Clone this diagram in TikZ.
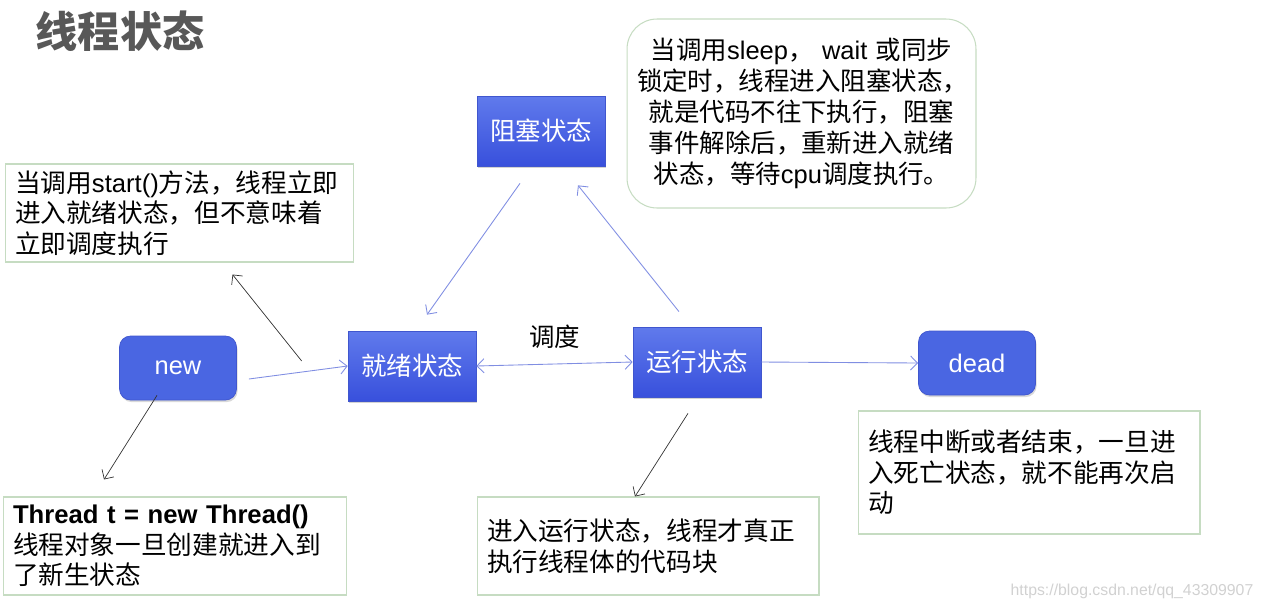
\documentclass[tikz,border=0pt]{standalone}
\usepackage{fontspec}
\setmainfont{Noto Sans CJK SC}
\newfontfamily\latn{Liberation Sans}
\usetikzlibrary{calc,arrows.meta,shadows}

\definecolor{statetop}{RGB}{96,122,236}
\definecolor{statebot}{RGB}{56,80,220}
\definecolor{stateedge}{RGB}{64,86,206}
\definecolor{roundfill}{RGB}{74,102,226}
\definecolor{noteedge}{RGB}{198,220,194}
\definecolor{flowblue}{RGB}{128,142,226}
\definecolor{titlegray}{RGB}{88,88,88}

\tikzset{
  >={Straight Barb[length=4pt,width=8pt]},
  state/.style={draw=stateedge, top color=statetop, bottom color=statebot, text=white,
    minimum width=2.56cm, minimum height=1.4cm, font=\fontsize{14.5}{17}\selectfont,
    drop shadow={opacity=0.35, shadow xshift=0.6pt, shadow yshift=-1.2pt}},
  endpoint/.style={draw=stateedge, fill=roundfill, rounded corners=0.22cm, text=white,
    minimum width=2.34cm, minimum height=1.28cm, font=\latn\fontsize{14.5}{17}\selectfont,
    drop shadow={opacity=0.3, shadow xshift=0.6pt, shadow yshift=-1.2pt}},
  note/.style={draw=noteedge, line width=0.6pt, align=left, inner xsep=0.2cm, inner ysep=0pt,
    font=\fontsize{14.6}{17.4}\selectfont},
  flow/.style={flowblue, line width=0.5pt, ->},
  hint/.style={black!80, line width=0.4pt, ->},
}

\begin{document}
\begin{tikzpicture}[x=0.02cm, y=-0.02cm]
  \useasboundingbox (0,0) rectangle (1266,609);
  \node[font=\fontsize{24}{28}\selectfont\bfseries, text=titlegray] (title) at (120,31) {线程状态};
  % 状态
  \node[state] (block) at (541,131) {阻塞状态};
  \node[state] (ready) at (412,366) {就绪状态};
  \node[state] (run) at (697,362) {运行状态};
  \node[endpoint] (new) at (178,368) {new};
  \node[endpoint] (dead) at (977,363) {dead};
  % 说明
  \node[note, text width=6.58cm, minimum height=1.96cm] (startnote) at (179.5,213)
    {当调用{\latn start()}方法，线程立即\\进入就绪状态，但不意味着\\立即调度执行};
  \node[note, text width=6.48cm, minimum height=1.96cm] (newnote) at (175,546)
    {{\latn\bfseries Thread t = new Thread()}\\线程对象一旦创建就进入到\\了新生状态};
  \node[note, text width=6.44cm, minimum height=1.96cm] (runnote) at (648,546)
    {进入运行状态，线程才真正\\执行线程体的代码块};
  \node[note, text width=6.44cm, minimum height=2.46cm] (deadnote) at (1029,472.5)
    {线程中断或者结束，一旦进\\入死亡状态，就不能再次启\\动};
  \node[note, align=center, rounded corners=0.6cm, text width=6.58cm, minimum height=3.78cm,
    font=\fontsize{14.5}{17.6}\selectfont] (blocknote) at (801.5,113.5)
    {当调用{\latn sleep}，{\latn\ wait} 或同步\\锁定时，线程进入阻塞状态，\\就是代码不往下执行，阻塞\\事件解除后，重新进入就绪\\状态，等待{\latn cpu}调度执行。};
  % 状态之间
  \draw[flow] ($(new.east)+(12,11)$) -- (ready.west);
  \draw[flow, <->] (ready.east) -- (run.west) node[midway, above=5pt, text=black, font=\fontsize{14.5}{17}\selectfont] (sched) {调度};
  \draw[flow] ($(block.south)+(-21,17)$) -- ($(ready.north)+(15,-16)$);
  \draw[flow] ($(run.north)+(-18,-15)$) -- ($(block.south)+(37,19)$);
  \draw[flow] (run.east) -- (dead.west);
  % 指向说明
  \draw[hint] ($(ready.west)+(-46,-5)$) -- ($(startnote.south)+(53,12)$);
  \draw[hint] ($(new.south)+(-21,-5)$) -- ($(newnote.north)+(-71,-17)$);
  \draw[hint] ($(run.south)+(-9,16)$) -- ($(runnote.north)+(-13,0)$);
  \node[text=black!18, font=\latn\fontsize{9}{10}\selectfont] (mark) at (1132,591) {https://blog.csdn.net/qq\_43309907};
\end{tikzpicture}
\end{document}
